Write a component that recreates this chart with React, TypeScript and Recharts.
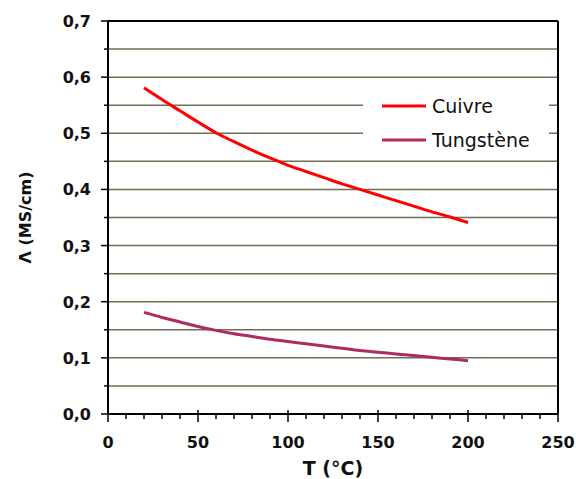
import { CartesianGrid, Legend, Line, LineChart, ReferenceLine, XAxis, YAxis } from "recharts";

const temps = [20, 30, 40, 50, 60, 70, 80, 90, 100, 110, 120, 130, 140, 150, 160, 170, 180, 190, 200];
const cuivre = [0.581, 0.56, 0.54, 0.52, 0.501, 0.485, 0.47, 0.456, 0.443, 0.432, 0.421, 0.41, 0.4, 0.39, 0.38, 0.37, 0.36, 0.351, 0.341];
const tungstene = [0.181, 0.172, 0.164, 0.156, 0.149, 0.143, 0.138, 0.133, 0.129, 0.125, 0.121, 0.117, 0.113, 0.11, 0.107, 0.104, 0.101, 0.098, 0.095];

const xTicks = [0, 10, 20, 30, 40, 50, 60, 70, 80, 90, 100, 110, 120, 130, 140, 150, 160, 170, 180, 190, 200, 210, 220, 230, 240, 250];
const yTicks = [0, 0.05, 0.1, 0.15, 0.2, 0.25, 0.3, 0.35, 0.4, 0.45, 0.5, 0.55, 0.6, 0.65, 0.7];

const series = [
  { key: "cuivre", name: "Cuivre", color: "#ff0000" },
  { key: "tungstene", name: "Tungstène", color: "#ad2a62" },
];

const data = temps.map((t, i) => ({ t, cuivre: cuivre[i], tungstene: tungstene[i] }));

const font = "'DejaVu Sans', sans-serif";

function YTick(props: any) {
  const { x, y, payload } = props;
  const v = payload.value as number;
  const major = Math.round(v * 100) % 10 === 0;
  return (
    <g>
      <line x1={x - (major ? 7 : 4)} x2={x} y1={y} y2={y} stroke="#000" strokeWidth={1.5} />
      {major && (
        <text x={x - 17} y={y + 6} textAnchor="end" fontFamily={font} fontWeight="bold" fontSize={16} fill="#111">
          {v.toFixed(1).replace(".", ",")}
        </text>
      )}
    </g>
  );
}

function XTick(props: any) {
  const { x, y, payload } = props;
  const v = payload.value as number;
  const major = v % 50 === 0;
  return (
    <g>
      <line x1={x} x2={x} y1={major ? y - 4 : y} y2={y + (major ? 8 : 5)} stroke="#000" strokeWidth={1.5} />
      {major && (
        <text x={x} y={y + 34} textAnchor="middle" fontFamily={font} fontWeight="bold" fontSize={16} fill="#111">
          {v}
        </text>
      )}
    </g>
  );
}

function LegendBox() {
  return (
    <div style={{ paddingTop: 4, paddingLeft: 19, fontFamily: font, fontSize: 19, color: "#111" }}>
      {series.map((s) => (
        <div key={s.key} style={{ display: "flex", alignItems: "center", height: 34 }}>
          <svg width={44} height={6} style={{ display: "block" }}>
            <line x1={0} x2={44} y1={3} y2={3} stroke={s.color} strokeWidth={3} />
          </svg>
          <span style={{ marginLeft: 6 }}>{s.name}</span>
        </div>
      ))}
    </div>
  );
}

export default function App() {
  return (
    <div style={{ position: "absolute", left: 0, top: 0, background: "#fff" }}>
      <LineChart width={576} height={479} data={data} margin={{ top: 21, right: 18, bottom: 0, left: 0 }}>
        <CartesianGrid vertical={false} stroke="#6e6e55" strokeWidth={1.5} />
        <XAxis
          dataKey="t"
          type="number"
          domain={[0, 250]}
          ticks={xTicks}
          interval={0}
          height={65}
          tickSize={0}
          tickMargin={0}
          tickLine={false}
          axisLine={{ stroke: "#000", strokeWidth: 2 }}
          tick={<XTick />}
          label={{ value: "T (°C)", position: "insideBottom", offset: 4, style: { fontFamily: font, fontWeight: "bold", fontSize: 19, fill: "#111" } }}
        />
        <YAxis
          type="number"
          domain={[0, 0.7]}
          ticks={yTicks}
          interval={0}
          width={108}
          tickSize={0}
          tickMargin={0}
          tickLine={false}
          axisLine={{ stroke: "#000", strokeWidth: 2 }}
          tick={<YTick />}
          label={{ value: "Λ (MS/cm)", angle: -90, position: "insideLeft", offset: 25, style: { textAnchor: "middle", fontFamily: font, fontWeight: "bold", fontSize: 16, fill: "#111" } }}
        />
        <ReferenceLine y={0.7} stroke="#000" strokeWidth={2} />
        <ReferenceLine x={250} stroke="#000" strokeWidth={2} />
        <Legend
          layout="vertical"
          align="center"
          verticalAlign="middle"
          content={<LegendBox />}
          wrapperStyle={{ left: 363, top: 85, width: 186, height: 72, background: "#fff" }}
        />
        {series.map((s) => (
          <Line
            key={s.key}
            type="monotone"
            dataKey={s.key}
            name={s.name}
            stroke={s.color}
            strokeWidth={3}
            dot={false}
            isAnimationActive={false}
          />
        ))}
      </LineChart>
    </div>
  );
}
